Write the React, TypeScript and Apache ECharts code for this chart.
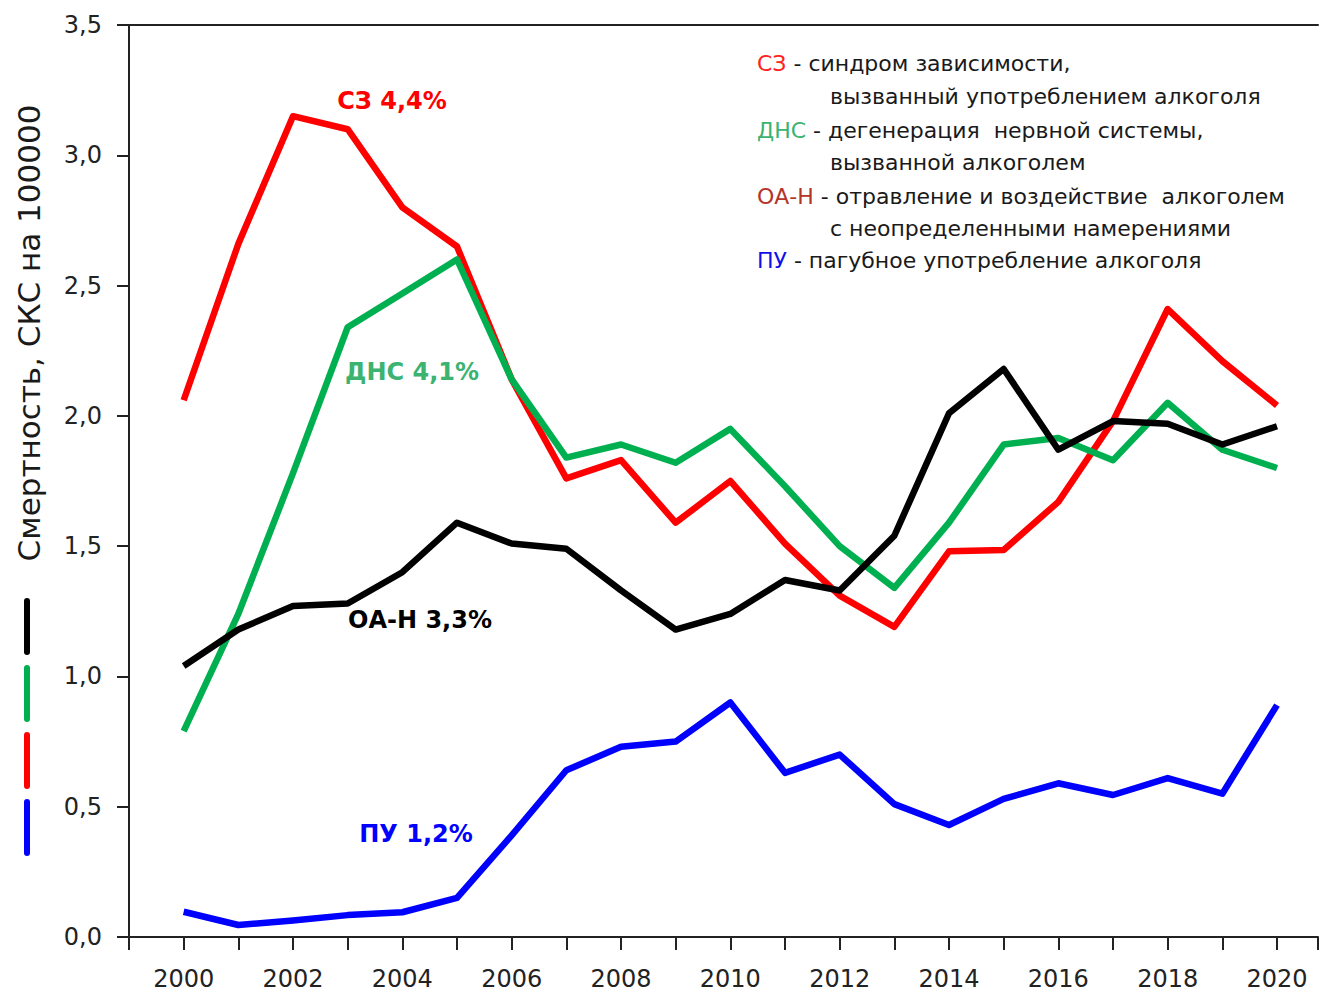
import React, { useEffect, useRef } from "react";
import * as echarts from "echarts";

const years = [2000, 2001, 2002, 2003, 2004, 2005, 2006, 2007, 2008, 2009, 2010, 2011, 2012, 2013, 2014, 2015, 2016, 2017, 2018, 2019, 2020];
const szValues = [2.06, 2.66, 3.15, 3.10, 2.80, 2.65, 2.14, 1.76, 1.83, 1.59, 1.75, 1.51, 1.31, 1.19, 1.48, 1.485, 1.67, 1.98, 2.41, 2.21, 2.04];
const dnsValues = [0.79, 1.24, 1.78, 2.34, 2.47, 2.60, 2.14, 1.84, 1.89, 1.82, 1.95, 1.73, 1.50, 1.34, 1.59, 1.89, 1.915, 1.83, 2.05, 1.87, 1.80];
const oanValues = [1.04, 1.18, 1.27, 1.28, 1.40, 1.59, 1.51, 1.49, 1.33, 1.18, 1.24, 1.37, 1.33, 1.54, 2.01, 2.18, 1.87, 1.98, 1.97, 1.89, 1.96];
const puValues = [0.097, 0.046, 0.063, 0.084, 0.095, 0.15, 0.39, 0.64, 0.73, 0.75, 0.90, 0.63, 0.70, 0.51, 0.43, 0.53, 0.59, 0.545, 0.61, 0.55, 0.89];

const seriesNames = ["СЗ", "ДНС", "ОА-Н", "ПУ"];
const seriesColors = ["#ff0000", "#00b050", "#000000", "#0000ff"];
const annotations = ["СЗ 4,4%", "ДНС 4,1%", "ОА-Н 3,3%", "ПУ 1,2%"];
const yTitle = "Смертность, СКС на 100000";

const FONT = "'DejaVu Sans', Arial, sans-serif";

export default function App() {
  const ref = useRef<HTMLDivElement>(null);
  useEffect(() => {
    if (!ref.current) return;
    const chart = echarts.init(ref.current, undefined, { renderer: "svg" });
    const all = [szValues, dnsValues, oanValues, puValues];
    const series = all.map((vals, i) => ({
      name: seriesNames[i],
      type: "line",
      data: years.map((y, j) => [y, vals[j]]),
      symbol: "none",
      lineStyle: { color: seriesColors[i], width: 6.5, join: "round" },
      itemStyle: { color: seriesColors[i] },
      z: 2 + i,
    }));
    const legendLineColors = ["#000000", "#00b050", "#ff0000", "#0000ff"];
    const legendGraphics = legendLineColors.map((c, i) => ({
      type: "line",
      shape: { x1: 27, y1: 601 + i * 67, x2: 27, y2: 652 + i * 67 },
      style: { stroke: c, lineWidth: 6, lineCap: "round" },
    }));
    const richBase = { fontSize: 22, fontFamily: FONT };
    const txt = (x: number, y: number, text: string, prefixColor?: string) => ({
      type: "text",
      x,
      y,
      style: {
        text,
        font: `22px ${FONT}`,
        fill: "#1a1a1a",
        verticalAlign: "middle",
        align: "left",
        rich: prefixColor ? { c: { ...richBase, fill: prefixColor, color: prefixColor } } : undefined,
      },
    });
    const option: any = {
      animation: false,
      backgroundColor: "#ffffff",
      grid: {
        left: 129,
        top: 25,
        bottom: 55,
        right: 0,
        show: false,
      },
      xAxis: [
        {
          type: "value",
          min: 1999,
          max: 2020.75,
          interval: 1,
          axisLine: { show: true, onZero: false, lineStyle: { color: "#222", width: 2 } },
          axisTick: { show: true, length: 13, inside: false, lineStyle: { color: "#222", width: 2 } },
          splitLine: { show: false },
          axisLabel: {
            margin: 30,
            fontSize: 24,
            fontFamily: FONT,
            color: "#222",
            formatter: (v: number) => (v >= 2000 && v <= 2020 && v % 2 === 0 ? String(v) : ""),
          },
        },
        {
          type: "value",
          position: "top",
          min: 1999,
          max: 2020.75,
          interval: 1,
          axisLine: { show: true, onZero: false, lineStyle: { color: "#222", width: 2 } },
          axisTick: { show: false },
          axisLabel: { show: false },
          splitLine: { show: false },
        },
      ],
      yAxis: {
        type: "value",
        min: 0,
        max: 3.5,
        interval: 0.5,
        axisLine: { show: true, lineStyle: { color: "#222", width: 2 } },
        axisTick: { show: true, length: 12, inside: false, lineStyle: { color: "#222", width: 2 } },
        splitLine: { show: false },
        axisLabel: {
          margin: 27,
          fontSize: 24,
          fontFamily: FONT,
          color: "#222",
          formatter: (v: number) => v.toFixed(1).replace(".", ","),
        },
      },
      series,
      graphic: [
        {
          type: "text",
          x: 29,
          y: 333,
          rotation: Math.PI / 2,
          style: {
            text: yTitle,
            font: `31px ${FONT}`,
            fill: "#1a1a1a",
            align: "center",
            verticalAlign: "middle",
          },
        },
        ...legendGraphics,
        {
          type: "text",
          x: 392,
          y: 101,
          style: { text: annotations[0], font: `bold 24px ${FONT}`, fill: "#ff0000", align: "center", verticalAlign: "middle" },
        },
        {
          type: "text",
          x: 412,
          y: 372,
          style: { text: annotations[1], font: `bold 24px ${FONT}`, fill: "#3cb371", align: "center", verticalAlign: "middle" },
        },
        {
          type: "text",
          x: 420,
          y: 620,
          style: { text: annotations[2], font: `bold 24px ${FONT}`, fill: "#000000", align: "center", verticalAlign: "middle" },
        },
        {
          type: "text",
          x: 416,
          y: 834,
          style: { text: annotations[3], font: `bold 24px ${FONT}`, fill: "#0000ff", align: "center", verticalAlign: "middle" },
        },
        txt(757, 63, "{c|СЗ} - синдром зависимости,", "#ff2020"),
        txt(830, 96, "вызванный употреблением алкоголя"),
        txt(757, 130, "{c|ДНС} - дегенерация  нервной системы,", "#3cb371"),
        txt(830, 162, "вызванной алкоголем"),
        txt(757, 196, "{c|ОА-Н} - отравление и воздействие  алкоголем", "#b5342a"),
        txt(830, 228, "с неопределенными намерениями"),
        txt(757, 260, "{c|ПУ} - пагубное употребление алкоголя", "#1010e8"),
      ],
    };
    chart.setOption(option);
    return () => chart.dispose();
  }, []);
  return (
    <div
      ref={ref}
      style={{ position: "fixed", left: 0, top: 0, width: 1321, height: 992, background: "#fff" }}
    />
  );
}
